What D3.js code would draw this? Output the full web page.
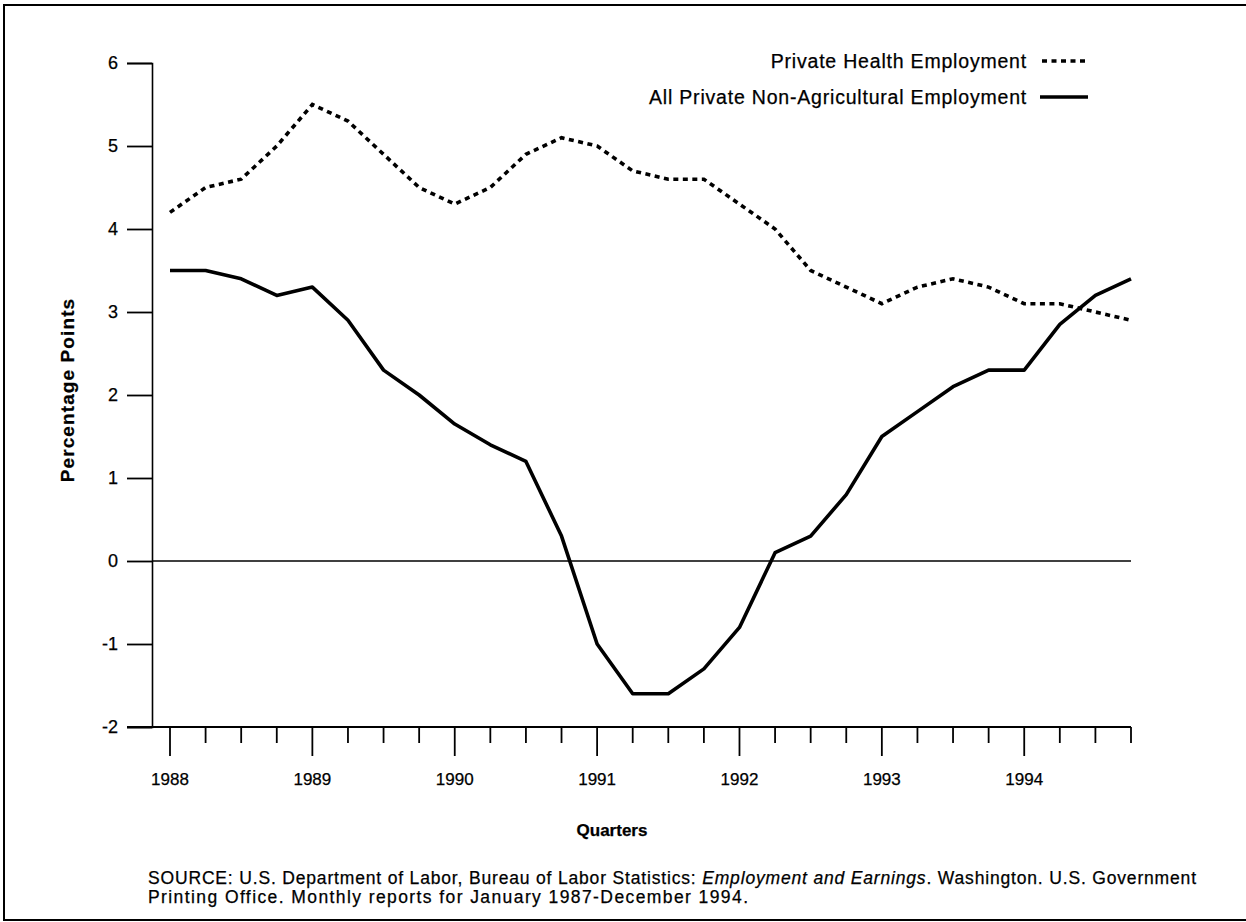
<!DOCTYPE html>
<html>
<head>
<meta charset="utf-8">
<script src="https://cdn.jsdelivr.net/npm/d3@7"></script>
<style>
  body { margin: 0; background: #fff; }
  svg { display: block; font-family: "Liberation Sans", Arial, Helvetica, sans-serif; }
  text { stroke: #000; stroke-width: 0.25px; }
</style>
</head>
<body>
<svg id="chart" width="1246" height="922"></svg>
<script>
// quarters 1988 Q1 .. 1994 Q4
const quarters = d3.range(28).map(i => 1988 + i * 0.25);
const years = [1988, 1989, 1990, 1991, 1992, 1993, 1994];
const yTicks = [-2, -1, 0, 1, 2, 3, 4, 5, 6];

const healthValues = [4.2, 4.5, 4.6, 5.0, 5.5, 5.3, 4.9, 4.5,
                      4.3, 4.5, 4.9, 5.1, 5.0, 4.7, 4.6, 4.6,
                      4.3, 4.0, 3.5, 3.3, 3.1, 3.3, 3.4, 3.3,
                      3.1, 3.1, 3.0, 2.9];
const allPrivateValues = [3.5, 3.5, 3.4, 3.2, 3.3, 2.9, 2.3, 2.0,
                          1.65, 1.4, 1.2, 0.3, -1.0, -1.6, -1.6, -1.3,
                          -0.8, 0.1, 0.3, 0.8, 1.5, 1.8, 2.1, 2.3,
                          2.3, 2.85, 3.2, 3.4];

const seriesNames = ["Private Health Employment", "All Private Non-Agricultural Employment"];

const svg = d3.select("#chart");

const x = d3.scaleLinear().domain([1988, 1994.75]).range([170, 1131]);
const y = d3.scaleLinear().domain([-2, 6]).range([727, 63]);
const axisX = 152;

// frame
svg.append("path")
  .attr("d", "M1246,5 H4 V920 H1246")
  .attr("fill", "none").attr("stroke", "#000").attr("stroke-width", 2);

// y axis
const yAxis = svg.append("g").attr("transform", `translate(${axisX},0)`)
  .call(d3.axisLeft(y).tickValues(yTicks).tickSize(25).tickPadding(9).tickFormat(d => String(d)));
yAxis.select(".domain").attr("stroke-width", 1.6);
yAxis.selectAll(".tick line").attr("stroke-width", 1.8);
yAxis.selectAll("text").attr("font-size", 18).attr("fill", "#000").attr("font-family", null);

// x axis line (from leftmost y tick to last quarter)
svg.append("line")
  .attr("x1", axisX - 25).attr("x2", x(1994.75))
  .attr("y1", y(-2)).attr("y2", y(-2))
  .attr("stroke", "#000").attr("stroke-width", 1.8);

// x ticks
svg.append("g").selectAll("line").data(quarters).join("line")
  .attr("x1", d => x(d)).attr("x2", d => x(d))
  .attr("y1", y(-2))
  .attr("y2", d => y(-2) + (Number.isInteger(d) ? 29 : 16))
  .attr("stroke", "#000").attr("stroke-width", 1.8);

svg.append("g").selectAll("text").data(years).join("text")
  .attr("x", d => x(d)).attr("y", 785)
  .attr("text-anchor", "middle").attr("font-size", 17)
  .text(d => d);

// zero line
svg.append("line")
  .attr("x1", axisX).attr("x2", x(1994.75))
  .attr("y1", y(0)).attr("y2", y(0))
  .attr("stroke", "#000").attr("stroke-width", 1.6);

// series
const line = d3.line().x((d, i) => x(quarters[i])).y(d => y(d));

svg.append("path").datum(healthValues)
  .attr("d", line).attr("fill", "none").attr("stroke", "#000")
  .attr("stroke-width", 3.6).attr("stroke-dasharray", "5,4.5");

svg.append("path").datum(allPrivateValues)
  .attr("d", line).attr("fill", "none").attr("stroke", "#000")
  .attr("stroke-width", 3.6).attr("stroke-linejoin", "round");

// legend
const legend = svg.append("g");
const legendY = [61, 97];
legend.selectAll("text").data(seriesNames).join("text")
  .attr("x", 1027).attr("y", (d, i) => legendY[i] + 7)
  .attr("text-anchor", "end").attr("font-size", 19.5)
  .attr("letter-spacing", 0.8)
  .text(d => d);
legend.append("line")
  .attr("x1", 1042).attr("x2", 1088).attr("y1", legendY[0]).attr("y2", legendY[0])
  .attr("stroke", "#000").attr("stroke-width", 3.6).attr("stroke-dasharray", "5,4.5");
legend.append("line")
  .attr("x1", 1040).attr("x2", 1088).attr("y1", legendY[1]).attr("y2", legendY[1])
  .attr("stroke", "#000").attr("stroke-width", 3.6);

// axis titles
svg.append("text")
  .attr("transform", "translate(74,390) rotate(-90)")
  .attr("text-anchor", "middle").attr("font-size", 19).attr("font-weight", "bold")
  .attr("letter-spacing", 1.1)
  .text("Percentage Points");

svg.append("text")
  .attr("x", 612).attr("y", 836)
  .attr("text-anchor", "middle").attr("font-size", 17).attr("font-weight", "bold")
  .text("Quarters");

// source note
const src = svg.append("text").attr("x", 148).attr("y", 884).attr("font-size", 17.5)
  .attr("textLength", 1048).attr("lengthAdjust", "spacing");
src.append("tspan").text("SOURCE: U.S. Department of Labor, Bureau of Labor Statistics: ");
src.append("tspan").attr("font-style", "italic").text("Employment and Earnings");
src.append("tspan").text(". Washington. U.S. Government");
svg.append("text").attr("x", 148).attr("y", 903).attr("font-size", 17.5)
  .attr("textLength", 600).attr("lengthAdjust", "spacing")
  .text("Printing Office. Monthly reports for January 1987-December 1994.");
</script>
</body>
</html>
